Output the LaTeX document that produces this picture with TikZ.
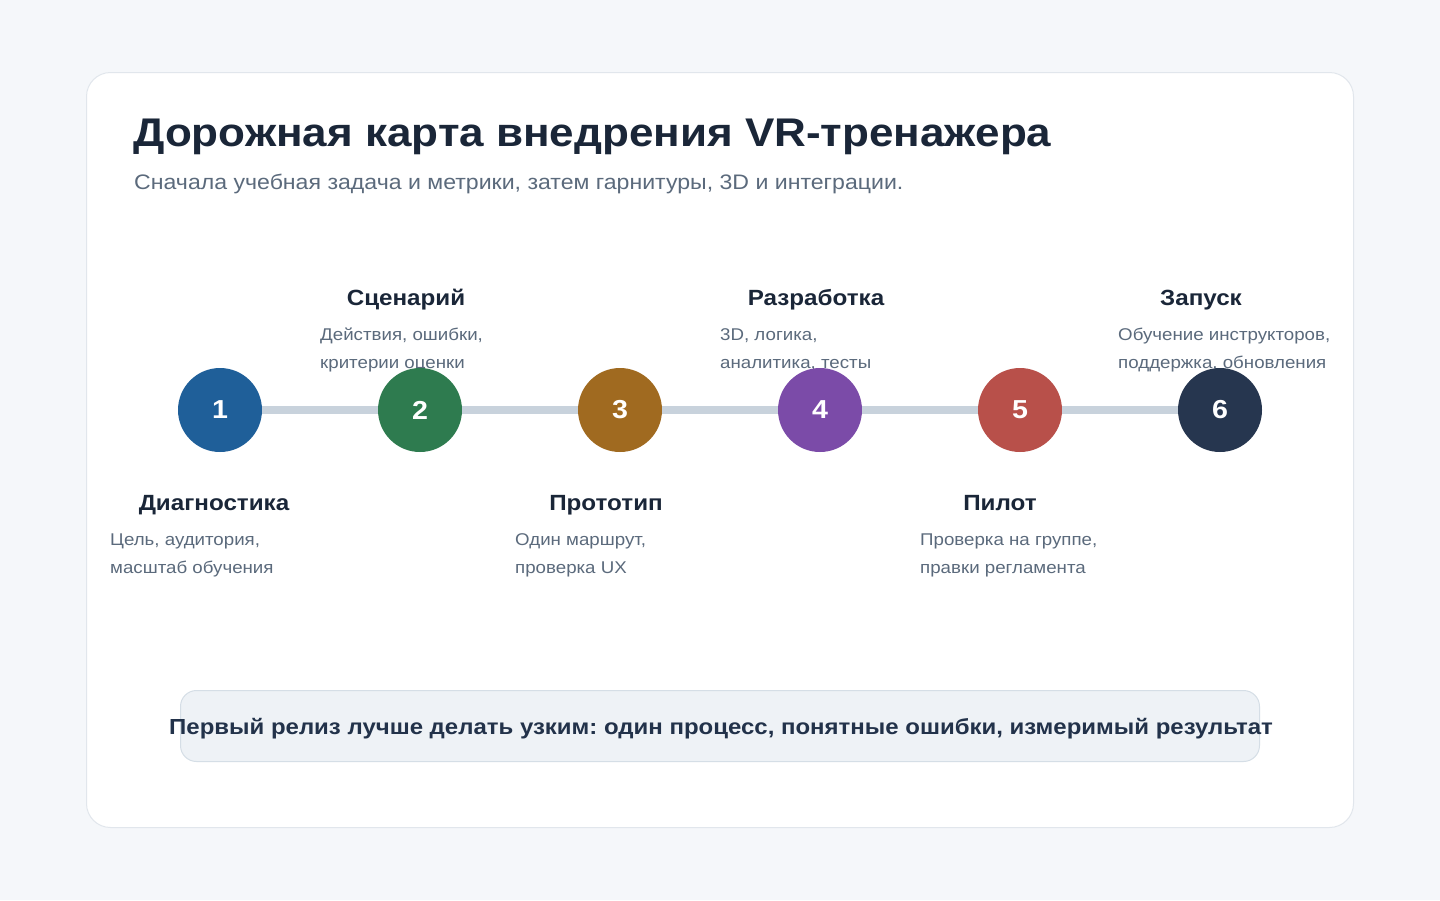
\documentclass[tikz,border=0pt]{standalone}
\usepackage{fontspec}
\setmainfont{Liberation Sans}[FakeStretch=1.1]
\frenchspacing
\definecolor{pagebg}{HTML}{F5F7FA}
\definecolor{cardline}{HTML}{E1E6EC}
\definecolor{ink}{HTML}{1A2638}
\definecolor{muted}{HTML}{5B6A7C}
\definecolor{track}{HTML}{C8D2DC}
\definecolor{noteFill}{HTML}{EEF2F6}
\definecolor{noteLine}{HTML}{D5DEE6}
\definecolor{noteInk}{HTML}{22324A}
\definecolor{sA}{HTML}{1F5F99}
\definecolor{sB}{HTML}{2E7B4F}
\definecolor{sC}{HTML}{A06A20}
\definecolor{sD}{HTML}{7B4BA8}
\definecolor{sE}{HTML}{B8504A}
\definecolor{sF}{HTML}{26364F}
\tikzset{
  stepdot/.style={circle, minimum size=84pt, inner sep=0pt, text=white,
    font=\fontsize{26}{26}\selectfont\bfseries},
  steptitle/.style={anchor=base, text=ink, inner sep=0pt,
    font=\fontsize{22}{22}\selectfont\bfseries},
  stepnote/.style={anchor=base west, text=muted, inner sep=0pt,
    font=\fontsize{17}{17}\selectfont},
}
\begin{document}
\begin{tikzpicture}[x=1pt,y=-1pt]
  \fill[pagebg] (0,0) rectangle (1440,900);
  \useasboundingbox (0,0) rectangle (1440,900);
  % card
  \draw[cardline, fill=white, line width=1pt, rounded corners=24pt]
    (86.5,72.5) rectangle (1353.5,827.5);
  % heading
  \node[anchor=base west, inner sep=0pt, text=ink,
    font=\fontsize{40}{40}\selectfont\bfseries] (title) at (133,146)
    {Дорожная карта внедрения VR-тренажера};
  \node[anchor=base west, inner sep=0pt, text=muted,
    font=\fontsize{21}{21}\selectfont] (subtitle) at (134,189)
    {Сначала учебная задача и метрики, затем гарнитуры, 3D и интеграции.};
  % step captions, drawn under the dots
  \node[steptitle] (t1) at (214,510) {Диагностика};
  \node[stepnote] (d1a) at (110,545) {Цель, аудитория,};
  \node[stepnote] (d1b) at (110,573) {масштаб обучения};
  \node[steptitle] (t2) at (406,305) {Сценарий};
  \node[stepnote] (d2a) at (320,340) {Действия, ошибки,};
  \node[stepnote] (d2b) at (320,368) {критерии оценки};
  \node[steptitle] (t3) at (606,510) {Прототип};
  \node[stepnote] (d3a) at (515,545) {Один маршрут,};
  \node[stepnote] (d3b) at (515,573) {проверка UX};
  \node[steptitle] (t4) at (816,305) {Разработка};
  \node[stepnote] (d4a) at (720,340) {3D, логика,};
  \node[stepnote] (d4b) at (720,368) {аналитика, тесты};
  \node[steptitle] (t5) at (1000,510) {Пилот};
  \node[stepnote] (d5a) at (920,545) {Проверка на группе,};
  \node[stepnote] (d5b) at (920,573) {правки регламента};
  \node[steptitle] (t6) at (1201,305) {Запуск};
  \node[stepnote] (d6a) at (1118,340) {Обучение инструкторов,};
  \node[stepnote] (d6b) at (1118,368) {поддержка, обновления};
  % dots
  \node[stepdot, fill=sA] (c1) at (220,410) {1};
  \node[stepdot, fill=sB] (c2) at (420,410) {2};
  \node[stepdot, fill=sC] (c3) at (620,410) {3};
  \node[stepdot, fill=sD] (c4) at (820,410) {4};
  \node[stepdot, fill=sE] (c5) at (1020,410) {5};
  \node[stepdot, fill=sF] (c6) at (1220,410) {6};
  % track between the dots
  \foreach \a/\b in {c1/c2,c2/c3,c3/c4,c4/c5,c5/c6}
    \draw[track, line width=8pt] (\a) -- (\b);
  % closing note
  \draw[noteLine, fill=noteFill, line width=1pt, rounded corners=16pt]
    (180.5,690.5) rectangle (1259.5,761.5);
  \node[anchor=base, inner sep=0pt, text=noteInk,
    font=\fontsize{21.8}{22}\selectfont\bfseries] (note) at (721,734)
    {Первый релиз лучше делать узким: один процесс, понятные ошибки, измеримый результат};
\end{tikzpicture}
\end{document}
